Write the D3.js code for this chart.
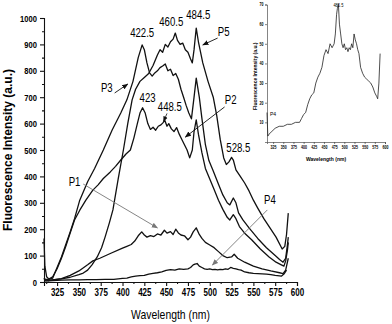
<!DOCTYPE html>
<html>
<head>
<meta charset="utf-8">
<script src="https://cdn.jsdelivr.net/npm/d3@7"></script>
<style>
  body { margin: 0; background: #fff; }
  svg { display: block; }
  text { font-family: "Liberation Sans", Arial, sans-serif; }
</style>
</head>
<body>
<div id="container"></div>
<script>
// spectra: wavelength (nm) and intensity (a.u.)
const p1Wave = [310,315,320,330,340,350,360,366,374,386,400,405,410,414,418,422,425,428,432,436,440,444,448,451,455,458,461,464,467,471,475,478,481,484.5,488,491,495,500,505,510,515,520,525,528,532,540,550,560,570,580,584,587,590];
const p1Int  = [12,5,8,13,25,42,65,80,90,108,128,135,142,155,175,190,178,170,176,172,182,178,196,185,191,180,200,186,178,175,160,170,190,205,180,165,150,140,130,115,100,92,95,105,90,75,60,50,42,35,32,45,90];

const p2Wave = [310,315,320,325,330,335,340,345,351,358,366,372,378,386,392,398,404,409,413,417,420,423,426,429,432,435,438,441,444,446,448.5,451,453,456,459,462,465,468,471,474,477,480,482,484.5,487,491,495,500,505,510,515,520,523,527,530,534,540,548,558,568,576,582,585,587,589,590];
const p2Int  = [10,10,20,50,90,135,185,235,272,310,348,368,392,417,438,462,485,500,545,600,640,660,640,600,578,586,575,590,595,602,612,590,600,580,570,585,560,540,520,500,470,500,570,614,560,490,430,390,350,310,275,245,235,255,240,210,185,160,125,95,75,65,60,80,120,150];

const p3Wave = [310,311,313,316,320,325,330,340,345,351,360,368,378,388,398,405,412,418,422.5,425,428,431,434,437,440,443,446,449,452,455,458,461,464,467,470,473,476,479,482,484.5,488,491,495,499,504,510,515,520,523,527,530,533,538,545,555,565,575,580,584,587,589,590];
const p3Int  = [165,60,20,10,15,55,95,190,240,310,380,430,500,575,640,690,760,850,898,880,830,792,780,792,800,812,818,826,800,806,782,790,768,730,700,668,640,618,700,772,700,620,520,460,420,370,330,300,292,318,300,262,235,205,165,130,100,85,75,90,140,170];

const p4Wave = [310,312,315,320,330,340,350,360,370,380,390,395,400,405,410,415,420,425,430,435,440,445,450,455,460,465,470,475,478,481,483,485.5,488,491,494,497,500,503,506,509,512,515,518,521,524,527,530,533,536,540,545,550,555,560,565,570,575,580,582,585,588];
const p4Int  = [15,3,4,5,7,8,8,9,9,10,10,12,14,15,19,22,24,25,30,33,35,38,44,47,45,50,48,50,55,65,68,70,60,55,50,48,50,47,48,46,48,47,50,48,55,52,50,47,45,38,35,33,32,31,30,28,25,23,22,30,45];

const p5Wave = [310,315,320,330,340,350,355,360,365,371,376,380,385,389,395,401,406,411,415,420,425,430,435,440,443,446,449,452,455,458,460.5,463,466,469,472,475,478,480,482,484.5,487,492,498,504,508,512,516,519,522,525,527,530,535,540,545,550,555,562,569,576,583,586,588,590];
const p5Int  = [10,5,8,12,18,28,34,45,65,95,130,170,225,273,390,500,600,690,730,760,775,790,820,860,880,870,900,890,910,920,943,915,900,905,880,870,845,830,880,962,910,830,760,700,630,540,470,445,455,472,462,425,400,375,345,310,280,240,205,170,125,135,180,261];

const xTicks = [325,350,375,400,425,450,475,500,525,550,575,600];
const yTicks = [0,100,200,300,400,500,600,700,800,900,1000];
const insetXTicks = [325,350,375,400,425,450,475,500,525,550,575,600];
const insetYTicks = [10,20,30,40,50,60,70];

const W = 392, H = 324;
const svg = d3.select("#container").append("svg")
  .attr("width", W).attr("height", H);

const defs = svg.append("defs");
function marker(id, col) {
  defs.append("marker")
    .attr("id", id).attr("viewBox", "0 0 10 10")
    .attr("refX", 9).attr("refY", 5)
    .attr("markerWidth", 7).attr("markerHeight", 7)
    .attr("orient", "auto")
    .append("path").attr("d", "M0,1L10,5L0,9Z").attr("fill", col);
}
marker("ahBlack", "#111");
marker("ahGray", "#777");

// main plot
const x = d3.scaleLinear().domain([310, 600]).range([44, 297]);
const y = d3.scaleLinear().domain([0, 1000]).range([282, 18]);

const xAxis = svg.append("g")
  .attr("transform", `translate(0,${y(0)})`)
  .call(d3.axisBottom(x).tickValues(xTicks).tickSize(4).tickPadding(3));
svg.append("g")
  .attr("transform", `translate(0,${y(0)})`)
  .call(d3.axisBottom(x).tickValues(xTicks.map(d => d - 12.5)).tickSize(2).tickFormat(""))
  .select(".domain").remove();
xAxis.selectAll("text").attr("class", "narrow").style("font-size", "10px").style("font-weight", "bold");

const yAxis = svg.append("g")
  .attr("transform", `translate(${x(310)},0)`)
  .call(d3.axisLeft(y).tickValues(yTicks).tickFormat(d3.format("d")).tickSize(4).tickPadding(3));
svg.append("g")
  .attr("transform", `translate(${x(310)},0)`)
  .call(d3.axisLeft(y).tickValues(yTicks.slice(0, -1).map(d => d + 50)).tickSize(2).tickFormat(""))
  .select(".domain").remove();
yAxis.selectAll("text").attr("class", "narrow").style("font-size", "9.5px").style("font-weight", "bold");
svg.selectAll(".domain, .tick line").attr("stroke", "#111").attr("stroke-width", 1.1);

svg.append("text")
  .attr("transform", `translate(12,${(y(0) + y(1000)) / 2}) rotate(-90)`)
  .attr("text-anchor", "middle")
  .style("font-size", "12px").style("font-weight", "bold")
  .text("Fluorescence Intensity (a.u.)");

svg.append("text")
  .attr("class", "narrow")
  .attr("x", (x(310) + x(600)) / 2).attr("y", 319)
  .attr("text-anchor", "middle")
  .style("font-size", "13px")
  .text("Wavelength (nm)");

const line = d3.line().x(d => x(d[0])).y(d => y(d[1]));
const series = [
  [p1Wave, p1Int], [p2Wave, p2Int], [p3Wave, p3Int], [p4Wave, p4Int], [p5Wave, p5Int]
];
svg.append("g").selectAll("path")
  .data(series)
  .join("path")
  .attr("d", s => line(d3.zip(s[0], s[1])))
  .attr("fill", "none")
  .attr("stroke", "#111")
  .attr("stroke-width", 1.3)
  .attr("stroke-linejoin", "round");

// peak labels: [text, wavelength, intensity, dx, dy]
const peakLabels = [
  ["422.5", 422.5, 898, 0, -8],
  ["460.5", 460.5, 943, -4, -7],
  ["484.5", 484.5, 962, 2, -9],
  ["423", 423, 660, 5, -6],
  ["448.5", 448.5, 612, 5, -9],
  ["528.5", 527, 472, 5, -5]
];
svg.append("g").selectAll("text")
  .data(peakLabels)
  .join("text")
  .attr("class", "narrow")
  .attr("x", d => x(d[1]) + d[3])
  .attr("y", d => y(d[2]) + d[4])
  .attr("text-anchor", "middle")
  .style("font-size", "12px")
  .text(d => d[0]);

// series labels with arrows: label at (wl,int), arrow from -> to (wl,int)
const seriesLabels = [
  { t: "P3", at: [382, 735], from: [391, 716], to: [406, 750], c: "#111", m: "ahBlack" },
  { t: "P5", at: [516, 947], from: [509, 924], to: [492, 898], c: "#111", m: "ahBlack" },
  { t: "P2", at: [524, 689], from: [517, 663], to: [472, 549], c: "#111", m: "ahBlack" },
  { t: "P1", at: [345, 379], from: [355, 371], to: [440, 205], c: "#777", m: "ahGray" },
  { t: "P4", at: [569, 311], from: [566, 273], to: [503, 64], c: "#777", m: "ahGray" }
];
const lab = svg.append("g");
seriesLabels.forEach(s => {
  lab.append("text")
    .attr("class", "narrow")
    .attr("x", x(s.at[0])).attr("y", y(s.at[1]) + 4)
    .attr("text-anchor", "middle")
    .style("font-size", "12px")
    .text(s.t);
  lab.append("line")
    .attr("x1", x(s.from[0])).attr("y1", y(s.from[1]))
    .attr("x2", x(s.to[0])).attr("y2", y(s.to[1]))
    .attr("stroke", s.c).attr("stroke-width", 0.9)
    .attr("marker-end", `url(#${s.m})`);
});
// little arrow under 448.5
lab.append("line")
  .attr("x1", x(451)).attr("y1", y(612) - 7)
  .attr("x2", x(447)).attr("y2", y(612) + 1)
  .attr("stroke", "#111").attr("stroke-width", 0.8)
  .attr("marker-end", "url(#ahBlack)");

// inset with P4 alone
const ix = d3.scaleLinear().domain([310, 600]).range([267, 385]);
const iy = d3.scaleLinear().domain([0, 70]).range([142, 4.5]);
const inset = svg.append("g");
const ixAxis = inset.append("g")
  .attr("transform", `translate(0,${iy(0)})`)
  .call(d3.axisBottom(ix).tickValues(insetXTicks).tickSize(2).tickPadding(1.5));
ixAxis.selectAll("text").attr("class", "narrow").style("font-size", "4.5px").style("font-weight", "bold");
const iyAxis = inset.append("g")
  .attr("transform", `translate(${ix(310)},0)`)
  .call(d3.axisLeft(iy).tickValues(insetYTicks).tickSize(2).tickPadding(1.5));
iyAxis.selectAll("text").attr("class", "narrow").style("font-size", "4.5px").style("font-weight", "bold");
inset.selectAll(".domain, .tick line").attr("stroke", "#333").attr("stroke-width", 0.6);

inset.append("path")
  .attr("d", d3.line().x(d => ix(d[0])).y(d => iy(d[1]))(d3.zip(p4Wave, p4Int)))
  .attr("fill", "none").attr("stroke", "#222").attr("stroke-width", 0.8);

inset.append("text")
  .attr("transform", `translate(257,${(iy(0) + iy(70)) / 2 + 3}) rotate(-90)`)
  .attr("text-anchor", "middle")
  .style("font-size", "5px").style("font-weight", "bold")
  .text("Fluorescence Intensity (a.u.)");
inset.append("text")
  .attr("x", ix(455)).attr("y", 161)
  .attr("text-anchor", "middle")
  .style("font-size", "5px").style("font-weight", "bold")
  .text("Wavelength (nm)");
inset.append("text")
  .attr("class", "narrow")
  .attr("x", ix(485.5)).attr("y", iy(70) + 2)
  .attr("text-anchor", "middle")
  .style("font-size", "5px")
  .text("485.5");
inset.append("text")
  .attr("x", ix(325)).attr("y", iy(13))
  .attr("text-anchor", "middle")
  .style("font-size", "5px")
  .text("P4");

// the figure uses a condensed face; squeeze those labels horizontally
svg.selectAll("text.narrow").each(function () {
  const w = this.getComputedTextLength();
  d3.select(this).attr("textLength", w * 0.8).attr("lengthAdjust", "spacingAndGlyphs");
});
</script>
</body>
</html>
